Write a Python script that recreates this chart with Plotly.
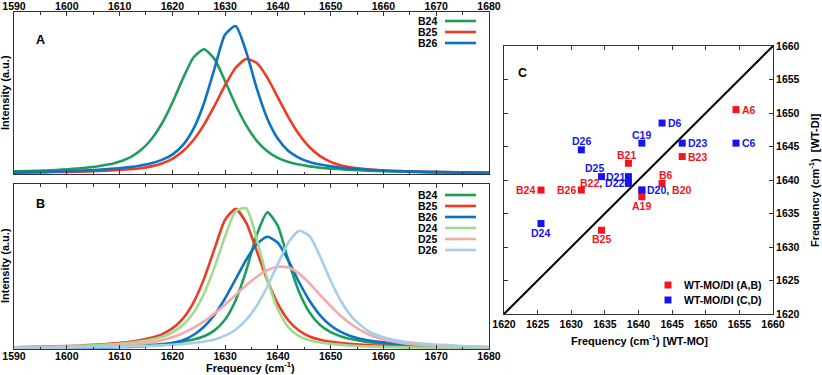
"""Amide I band spectra (A, B) and WT-MO vs WT-DI frequency comparison (C)."""
import plotly.graph_objects as go

W, H = 822, 375

# ---- spectra (intensity, a.u.) ----
FREQ = [1590, 1594, 1598, 1602, 1606, 1609, 1612, 1614, 1616, 1618, 1620, 1622,
        1624, 1626, 1628, 1630, 1632, 1634, 1636, 1638, 1640, 1642, 1644, 1646,
        1648, 1650, 1652, 1654, 1657, 1660, 1664, 1668, 1674, 1680]

A_B24 = [0.016, 0.019, 0.025, 0.034, 0.048, 0.066, 0.103, 0.146, 0.213, 0.310, 0.440, 0.589,
         0.719, 0.770, 0.709, 0.573, 0.426, 0.300, 0.205, 0.141, 0.099, 0.074, 0.058, 0.047,
         0.039, 0.033, 0.029, 0.025, 0.021, 0.017, 0.014, 0.011, 0.009, 0.007]
A_B25 = [0.008, 0.009, 0.012, 0.014, 0.019, 0.023, 0.030, 0.036, 0.047, 0.065, 0.094, 0.140,
         0.210, 0.305, 0.422, 0.548, 0.656, 0.710, 0.685, 0.595, 0.472, 0.350, 0.245, 0.165,
         0.110, 0.075, 0.053, 0.040, 0.029, 0.022, 0.017, 0.013, 0.010, 0.007]
A_B26 = [0.010, 0.012, 0.015, 0.019, 0.026, 0.033, 0.043, 0.053, 0.066, 0.087, 0.120, 0.178,
         0.278, 0.437, 0.652, 0.861, 0.913, 0.754, 0.528, 0.341, 0.217, 0.142, 0.100, 0.074,
         0.058, 0.047, 0.039, 0.033, 0.026, 0.021, 0.016, 0.013, 0.010, 0.007]

B_B24 = [0.005, 0.007, 0.008, 0.010, 0.012, 0.015, 0.018, 0.021, 0.025, 0.030, 0.036, 0.045,
         0.057, 0.077, 0.113, 0.179, 0.296, 0.475, 0.692, 0.828, 0.745, 0.535, 0.347, 0.221,
         0.145, 0.102, 0.076, 0.059, 0.043, 0.032, 0.023, 0.018, 0.012, 0.009]
B_B25 = [0.010, 0.013, 0.016, 0.020, 0.027, 0.034, 0.044, 0.054, 0.068, 0.089, 0.125, 0.184,
         0.281, 0.425, 0.608, 0.783, 0.849, 0.764, 0.594, 0.417, 0.273, 0.173, 0.112, 0.076,
         0.056, 0.044, 0.036, 0.030, 0.024, 0.019, 0.015, 0.012, 0.009, 0.007]
B_B26 = [0.004, 0.005, 0.006, 0.007, 0.009, 0.011, 0.013, 0.016, 0.020, 0.026, 0.036, 0.053,
         0.085, 0.135, 0.208, 0.307, 0.423, 0.541, 0.636, 0.680, 0.644, 0.535, 0.406, 0.292,
         0.204, 0.142, 0.102, 0.076, 0.053, 0.040, 0.029, 0.022, 0.016, 0.011]
B_D24 = [0.010, 0.012, 0.015, 0.019, 0.024, 0.030, 0.038, 0.046, 0.057, 0.073, 0.100, 0.145,
         0.219, 0.335, 0.496, 0.683, 0.835, 0.853, 0.666, 0.424, 0.239, 0.131, 0.078, 0.053,
         0.039, 0.031, 0.025, 0.020, 0.016, 0.013, 0.010, 0.008, 0.006, 0.004]
B_D25 = [0.007, 0.009, 0.010, 0.012, 0.015, 0.019, 0.025, 0.032, 0.041, 0.053, 0.071, 0.096,
         0.128, 0.167, 0.215, 0.270, 0.328, 0.386, 0.438, 0.478, 0.498, 0.494, 0.457, 0.398,
         0.328, 0.260, 0.198, 0.147, 0.091, 0.057, 0.034, 0.023, 0.015, 0.011]
B_D26 = [0.006, 0.006, 0.008, 0.009, 0.011, 0.013, 0.015, 0.017, 0.019, 0.022, 0.026, 0.030,
         0.036, 0.045, 0.058, 0.081, 0.117, 0.176, 0.262, 0.379, 0.516, 0.645, 0.716, 0.685,
         0.561, 0.414, 0.288, 0.195, 0.111, 0.071, 0.044, 0.031, 0.020, 0.014]

SPEC_TICKS = [1590, 1600, 1610, 1620, 1630, 1640, 1650, 1660, 1670, 1680]

# ---- panel C: peak frequencies (cm-1) ----
AB_LABELS = ["B20", "B22", "A6", "B23", "B21", "B6", "A19", "B24", "B26", "B25"]
AB_WTMO = [1640.5, 1638.5, 1654.5, 1646.5, 1638.5, 1643.5, 1640.5, 1625.5, 1631.5, 1634.5]
AB_WTDI = [1638.5, 1639.5, 1650.5, 1643.5, 1642.5, 1639.5, 1637.5, 1638.5, 1638.5, 1632.5]

CD_LABELS = ["D6", "C6", "C19", "D23", "D26", "D25", "D21", "D22", "D20", "D24"]
CD_WTMO = [1643.5, 1654.5, 1640.5, 1646.5, 1631.5, 1634.5, 1638.5, 1638.5, 1640.5, 1625.5]
CD_WTDI = [1648.5, 1645.5, 1645.5, 1645.5, 1644.5, 1640.5, 1640.5, 1639.5, 1638.5, 1633.5]

C_RANGE = [1620, 1660]
C_TICKS = [1620, 1625, 1630, 1635, 1640, 1645, 1650, 1655, 1660]
C_SERIES = ["WT-MO/DI (A,B)", "WT-MO/DI (C,D)"]

# ---- styling ----
FONT = "Liberation Sans, Arial, Helvetica, sans-serif"
RED, BLUE = "#f5141e", "#1414f0"
COLORS = {
    "B24": "#1f9e5a", "B25": "#ef3b24", "B26": "#0b72c4",
    "D24": "#a3d993", "D25": "#f5a9a9", "D26": "#a6cdea",
}


def px_x(p):
    return p / W


def px_y(p):
    return 1 - p / H


DOM_X_AB = [px_x(14), px_x(489)]
DOM_Y_A = [px_y(174), px_y(12)]
DOM_Y_B = [px_y(349), px_y(184)]
DOM_X_C = [px_x(504), px_x(773)]
DOM_Y_C = [px_y(314), px_y(46)]

fig = go.Figure()

panel_a = [("B24", A_B24), ("B25", A_B25), ("B26", A_B26)]
panel_b = [("B24", B_B24), ("B25", B_B25), ("B26", B_B26),
           ("D24", B_D24), ("D25", B_D25), ("D26", B_D26)]

for name, vals in panel_a:
    fig.add_trace(go.Scatter(x=FREQ, y=vals, mode="lines", name=name,
                             line=dict(color=COLORS[name], width=2.6, shape="spline", smoothing=0.6),
                             xaxis="x", yaxis="y"))

for name, vals in panel_b:
    fig.add_trace(go.Scatter(x=FREQ, y=vals, mode="lines", name=name,
                             line=dict(color=COLORS[name], width=2.6, shape="spline", smoothing=0.6),
                             xaxis="x2", yaxis="y2"))

# panel C
fig.add_trace(go.Scatter(x=C_RANGE, y=C_RANGE, mode="lines", line=dict(color="black", width=2),
                         xaxis="x3", yaxis="y3", hoverinfo="skip"))
fig.add_trace(go.Scatter(x=AB_WTMO, y=AB_WTDI, mode="markers", name=C_SERIES[0],
                         text=AB_LABELS, marker=dict(symbol="square", size=7, color=RED),
                         xaxis="x3", yaxis="y3"))
fig.add_trace(go.Scatter(x=CD_WTMO, y=CD_WTDI, mode="markers", name=C_SERIES[1],
                         text=CD_LABELS, marker=dict(symbol="square", size=7, color=BLUE),
                         xaxis="x3", yaxis="y3"))

# label placement around each square: (side, extra x shift)
PLACE = {
    "A6": ("right", 0), "B23": ("right", 0), "B21": ("above", -2), "B6": ("above", 4),
    "A19": ("below", 0), "B24": ("left", 0), "B26": ("left", 0), "B25": ("below", 0),
    "D6": ("right", 0), "C6": ("right", 0), "C19": ("above", 0), "D23": ("right", 0),
    "D26": ("above", 0), "D25": ("above", -7), "D21": ("left", 2), "D22": ("left", 2),
    "D20": ("right", 0), "D24": ("below", 0),
}
COMBINED = {
    "D22": [("B22", RED), ("D22", BLUE)],
    "D20": [("D20", BLUE), ("B20", RED)],
}

annotations = []
shapes = []


def add_label(x, y, lab, color):
    if lab not in PLACE:
        return
    side, dx = PLACE[lab]
    text = lab
    if lab in COMBINED:
        text = ", ".join(f'<span style="color:{c}">{t}</span>' for t, c in COMBINED[lab])
        color = "#222222"
    a = dict(x=x, y=y, xref="x3", yref="y3", text=text, showarrow=False, borderpad=0,
             font=dict(family=FONT, size=10.5, color=color, weight="bold"))
    if side == "right":
        a.update(xanchor="left", yanchor="middle", xshift=4.5 + dx)
    elif side == "left":
        a.update(xanchor="right", yanchor="middle", xshift=-4.5 + dx)
    elif side == "above":
        a.update(xanchor="center", yanchor="middle", xshift=dx, yshift=8.5)
    else:
        a.update(xanchor="center", yanchor="middle", xshift=dx, yshift=-9)
    annotations.append(a)


for x, y, lab in zip(AB_WTMO, AB_WTDI, AB_LABELS):
    add_label(x, y, lab, RED)
for x, y, lab in zip(CD_WTMO, CD_WTDI, CD_LABELS):
    add_label(x, y, lab, BLUE)

keyfont = dict(family=FONT, size=10.5, color="black", weight="bold")


# key boxes for panels A and B: name on the left, line sample on the right
def add_key(names, top_px):
    for i, name in enumerate(names):
        yp = px_y(top_px + 11 * i)
        annotations.append(dict(x=px_x(438), y=yp, xref="paper", yref="paper", text=name,
                                xanchor="right", yanchor="middle", showarrow=False, borderpad=0,
                                font=keyfont))
        shapes.append(dict(type="line", xref="paper", yref="paper", x0=px_x(445), x1=px_x(476),
                           y0=yp, y1=yp, line=dict(color=COLORS[name], width=2.6)))


add_key([n for n, _ in panel_a], 21)
add_key([n for n, _ in panel_b], 195)

# key for panel C: square then text
for i, (name, col) in enumerate(zip(C_SERIES, [RED, BLUE])):
    yc = 285 + 15 * i
    shapes.append(dict(type="rect", xref="paper", yref="paper", x0=px_x(664.5), x1=px_x(671.5),
                       y0=px_y(yc + 3.5), y1=px_y(yc - 3.5), fillcolor=col, line=dict(width=0)))
    annotations.append(dict(x=px_x(683), y=px_y(yc), xref="paper", yref="paper", text=name,
                            xanchor="left", yanchor="middle", showarrow=False, borderpad=0,
                            font=keyfont))

bold = dict(family=FONT, size=11, color="black", weight="bold")
for txt, x, y in [("A", 34, 31), ("B", 34, 204), ("C", 522, 64)]:
    annotations.append(dict(x=px_x(x), y=px_y(y), xref="paper", yref="paper", text=txt,
                            showarrow=False, font=dict(bold, size=12.5)))

titles = [
    ("Intensity (a.u.)", 5, 93, -90),
    ("Intensity (a.u.)", 5, 266, -90),
    ("Frequency (cm<sup>-1</sup>)", 250, 366.5, 0),
    ("Frequency (cm<sup>-1</sup>) [WT-MO]", 639, 340, 0),
    ("Frequency (cm<sup>-1</sup>)  [WT-DI]", 814, 180, -90),
]
for txt, x, y, ang in titles:
    annotations.append(dict(x=px_x(x), y=px_y(y), xref="paper", yref="paper", text=txt,
                            textangle=ang, showarrow=False, xanchor="center", yanchor="middle",
                            font=bold))

tickfont = dict(family=FONT, size=10.5, color="black", weight="bold")
frame = dict(showline=True, linecolor="#333333", linewidth=1, showgrid=False, zeroline=False,
             automargin=False)

spec_x = dict(frame, range=[1590, 1680], tickvals=SPEC_TICKS, ticks="inside", ticklen=4,
              tickcolor="#333333", mirror="ticks", tickfont=tickfont, domain=DOM_X_AB,
              ticklabelstandoff=-3,
              minor=dict(dtick=5, tick0=1590, ticks="inside", ticklen=2.5, tickcolor="#333333"))
spec_y = dict(frame, range=[0, 1], showticklabels=False, ticks="", mirror=True)
c_axis = dict(frame, range=C_RANGE, tickvals=C_TICKS, ticks="inside", ticklen=4,
              tickcolor="#333333", mirror="ticks", tickfont=tickfont)

fig.update_layout(
    template="none",
    width=W, height=H,
    margin=dict(l=0, r=0, t=0, b=0, autoexpand=False),
    paper_bgcolor="white", plot_bgcolor="white",
    xaxis=dict(spec_x, side="top", anchor="y"),
    yaxis=dict(spec_y, domain=DOM_Y_A, anchor="x"),
    xaxis2=dict(spec_x, side="bottom", anchor="y2"),
    yaxis2=dict(spec_y, domain=DOM_Y_B, anchor="x2"),
    xaxis3=dict(c_axis, domain=DOM_X_C, anchor="y3"),
    yaxis3=dict(c_axis, domain=DOM_Y_C, anchor="x3", side="right"),
    annotations=annotations,
    shapes=shapes,
    showlegend=False,
)

# the page body has a default 8px margin; drop it so the figure fills the window
fig.write_html("out.html", config={"displayModeBar": False},
               post_script="document.body.style.margin='0';document.body.style.overflow='hidden';")
